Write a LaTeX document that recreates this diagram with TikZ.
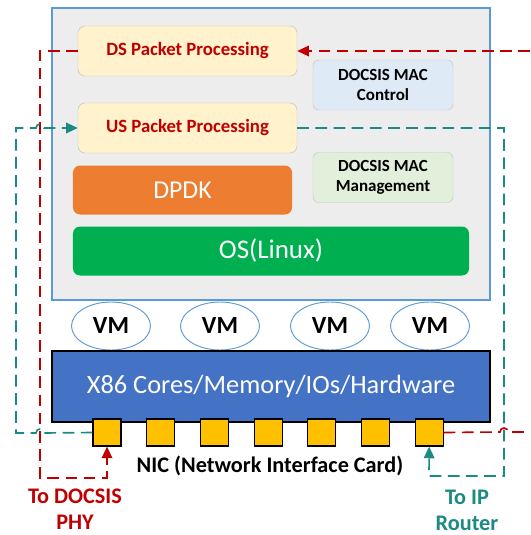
\documentclass[tikz,border=0pt]{standalone}
\usepackage{fontspec}
\setmainfont{Carlito}
\usepackage{xcolor}
\usepackage{tikz}
\usetikzlibrary{arrows.meta,positioning,shapes.geometric}

\definecolor{dsred}{HTML}{C00000}
\definecolor{usteal}{HTML}{1B8A84}
\definecolor{hostgray}{HTML}{EDEDED}
\definecolor{linkblue}{HTML}{5B9BD5}
\definecolor{hwblue}{HTML}{4472C4}
\definecolor{nicgold}{HTML}{FFC000}
\definecolor{dpdkorange}{HTML}{ED7D31}
\definecolor{osgreen}{HTML}{00B050}
\definecolor{procfill}{HTML}{FFF2CC}
\definecolor{ctrlfill}{HTML}{DEEBF7}
\definecolor{mgmtfill}{HTML}{E2EFDA}

\begin{document}
\begin{tikzpicture}[
  x=0.03cm, y=-0.03cm,
  host/.style={rectangle, draw=linkblue, fill=hostgray, line width=0.9pt,
               minimum width=13.14cm, minimum height=8.76cm},
  proc/.style={rectangle, rounded corners=6pt, draw=black!25, fill=procfill,
               text=dsred, font=\fontsize{16}{19}\selectfont\bfseries,
               minimum width=6.57cm, minimum height=1.5cm},
  mac/.style={rectangle, rounded corners=5pt, draw=black!22, align=center,
              font=\fontsize{14.5}{17.5}\selectfont\bfseries,
              minimum width=4.2cm, minimum height=1.5cm},
  layer/.style={rectangle, rounded corners=6pt, draw=none, text=white,
                minimum height=1.47cm},
  vm/.style={ellipse, draw=linkblue, fill=white, line width=0.8pt,
             font=\fontsize{21}{24}\selectfont\bfseries,
             minimum width=2.37cm, minimum height=1.44cm, inner sep=0pt},
  hw/.style={rectangle, draw=black, fill=hwblue, line width=1.2pt, text=white,
             font=\fontsize{22.5}{26}\selectfont,
             minimum width=13.14cm, minimum height=2.13cm},
  port/.style={rectangle, draw=black, fill=nicgold, line width=0.9pt,
               minimum width=0.84cm, minimum height=0.81cm, inner sep=0pt},
  lbl/.style={align=center, font=\fontsize{19}{22}\selectfont\bfseries},
  dsline/.style={draw=dsred, line width=1.4pt, dash pattern=on 10pt off 5.5pt},
  usline/.style={draw=usteal, line width=1.4pt, dash pattern=on 10pt off 5.5pt},
  arr/.style={-{Triangle[length=10pt, width=9pt]}}
]
\useasboundingbox (0,0) rectangle (530,535);

% virtualised host
\node[host] (host) at (271,154) {};
\node[proc] (ds) at (187.5,51) {DS Packet Processing};
\node[proc] (us) at (187.5,128) {US Packet Processing};
\node[mac, fill=ctrlfill] (ctrl) at (383,85) {DOCSIS MAC\\Control};
\node[mac, fill=mgmtfill] (mgmt) at (383,177.5) {DOCSIS MAC\\Management};
\node[layer, fill=dpdkorange, minimum width=6.57cm,
      font=\fontsize{22}{26}\selectfont] (dpdk) at (182.5,190) {DPDK};
\node[layer, fill=osgreen, minimum width=11.88cm,
      font=\fontsize{23}{27}\selectfont] (os) at (271,251) {OS(Linux)};

% virtual machines
\node[vm] (vm1) at (111,326) {VM};
\node[vm] (vm2) at (220,326) {VM};
\node[vm] (vm3) at (330,326) {VM};
\node[vm] (vm4) at (430,326) {VM};

% hardware and NIC ports
\node[hw] (hw) at (271,386.5) {X86 Cores/Memory/IOs/Hardware};
\foreach \i in {1,...,7}
  \node[port] (nic\i) at ({107+(\i-1)*53.7},432.5) {};
\node[lbl] (nic) at (270,466) {NIC (Network Interface Card)};
\node[lbl, text=dsred] (phy) at (75,509) {To DOCSIS\\PHY};
\node[lbl, text=usteal] (router) at (467,510) {To IP\\Router};

\coordinate (dsin) at (530,51);
\coordinate (dsout) at (530,432);
\coordinate (usin) at (16,433);

% downstream path
\draw[dsline, arr] (dsin) -- (ds.east);
\draw[dsline] (nic7.east) -- (500,432) arc[start angle=180, end angle=360, radius=4] -- (dsout);
\draw[dsline, arr] (ds.west) -- (40,51) -- (40,478) -- (107,478) -- (nic1.south);

% upstream path
\draw[usline, arr] (nic1.west) -- (44,433) arc[start angle=0, end angle=-180, radius=4]
  -- (usin) -- (16,128) -- (36,128) arc[start angle=180, end angle=360, radius=4] -- (us.west);
\draw[usline, arr] (us.east) -- (504,128) -- (504,476) -- (429,476) -- (nic7.south);
\end{tikzpicture}
\end{document}
